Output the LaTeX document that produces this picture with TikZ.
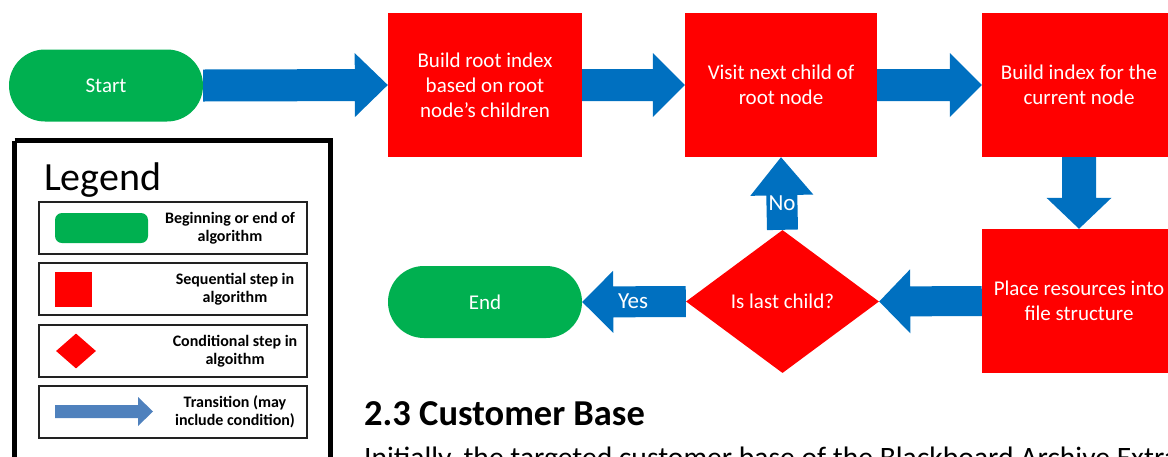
\documentclass[tikz,border=0pt]{standalone}
\usepackage{fontspec}
\setmainfont{Carlito}
\usetikzlibrary{shapes.geometric,calc}

\definecolor{flowred}{HTML}{FF0000}
\definecolor{flowgreen}{HTML}{00B050}
\definecolor{flowblue}{HTML}{0070C0}
\definecolor{legendblue}{HTML}{4F81BD}
\definecolor{legendline}{HTML}{222222}

% Block arrow between two points:
% [style] {name} {from} {to} {half shaft} {half head} {head length}
\newcommand\flowarrow[7][fill=flowblue]{%
  \coordinate (#2-h) at ($(#4)!#7!(#3)$);
  \fill[#1] ($(#3)!#5!90:(#4)$) -- ($(#2-h)!#5!90:(#4)$) -- ($(#2-h)!#6!90:(#4)$)
    -- (#4) -- ($(#2-h)!#6!-90:(#4)$) -- ($(#2-h)!#5!-90:(#4)$)
    -- ($(#3)!#5!-90:(#4)$) -- cycle;}

\tikzset{
  flowtext/.style={text=white, font=\fontsize{21}{25}\selectfont, align=center},
  terminal/.style={flowtext, fill=flowgreen, minimum width=194pt, minimum height=72pt,
    rounded corners=35.9pt, inner sep=0pt},
  process/.style={flowtext, fill=flowred, minimum width=194pt, minimum height=144pt,
    inner sep=0pt},
  decision/.style={flowtext, diamond, fill=flowred, minimum width=193pt,
    minimum height=143pt, inner sep=0pt},
  legendrow/.style={draw=legendline, line width=1.6pt},
  legendtext/.style={font=\bfseries\fontsize{16}{18}\selectfont, align=center},
  arrowlabel/.style={text=white, font=\fontsize{23}{25}\selectfont},
}

\begin{document}
\begin{tikzpicture}[x=1pt,y=-1pt]
\useasboundingbox (0,0) rectangle (1168,456);

% flowchart steps
\node[terminal] (start) at (106,85.5) {Start};
\node[process] (root) at (485,85) {Build root index\\based on root\\node’s children};
\node[process, minimum width=192pt] (visit) at (781,85) {Visit next child of\\root node};
\node[process] (cur) at (1079,85) {Build index for the\\current node};
\node[process] (place) at (1079,301) {Place resources into\\file structure};
\node[decision] (last) at (782.5,301.5) {Is last child?};
\node[terminal] (finish) at (485,302) {End};

% transitions
\flowarrow{a1}{start.east}{root.west}{16pt}{32pt}{33pt}
\flowarrow{a2}{root.east}{visit.west}{16pt}{32pt}{32pt}
\flowarrow{a3}{visit.east}{cur.west}{16pt}{32pt}{32pt}
\flowarrow{a4}{cur.south}{place.north}{17pt}{32.5pt}{31pt}
\flowarrow{a5}{place.west}{last.east}{15pt}{32pt}{31pt}
\flowarrow{a6}{last.west}{finish.east}{15.5pt}{31pt}{31pt}
\flowarrow{a7}{last.north}{visit.south}{15.5pt}{31.5pt}{38pt}
\node[arrowlabel] (yes) at (633,301) {Yes};
\node[arrowlabel] (no) at (782,203) {No};

% legend
\draw[line width=5pt] (14.5,140.5) -- (330.5,140.5) -- (330.5,470) (14.5,470) -- (14.5,140.5);
\node[anchor=base west, font=\fontsize{40}{44}\selectfont, inner sep=0pt] (legendtitle) at (44,190) {Legend};

\draw[legendrow] (39,202) rectangle (307,254);
\node[fill=flowgreen, rounded corners=7pt, minimum width=93pt, minimum height=30pt, inner sep=0pt] (lterm) at (101.5,228) {};
\node[legendtext] (lterm-text) at (230,228) {Beginning or end of\\algorithm};

\draw[legendrow] (39,263) rectangle (307,315);
\node[fill=flowred, minimum width=37pt, minimum height=35pt, inner sep=0pt] (lproc) at (73.5,289.5) {};
\node[legendtext] (lproc-text) at (235,289) {Sequential step in\\algorithm};

\draw[legendrow] (39,325) rectangle (307,377);
\node[diamond, fill=flowred, minimum width=40pt, minimum height=35pt, inner sep=0pt] (ldec) at (76,351) {};
\node[legendtext] (ldec-text) at (235,351) {Conditional step in\\algoithm};

\draw[legendrow] (39,386) rectangle (307,438);
\coordinate (la-s) at (55,411.5);
\coordinate (la-e) at (153,411.5);
\flowarrow[fill=legendblue]{la}{la-s}{la-e}{6.5pt}{14.5pt}{15pt}
\node[legendtext] (larrow-text) at (235,412) {Transition (may\\include condition)};

% section text below the flowchart
\node[anchor=base west, font=\bfseries\fontsize{36.5}{40}\selectfont, inner sep=0pt] (heading) at (364,425) {2.3 Customer Base};
\node[anchor=base west, font=\fontsize{29.6}{34}\selectfont, inner sep=0pt] (body) at (364,467) {Initially, the targeted customer base of the Blackboard Archive Extractor};
\end{tikzpicture}
\end{document}
